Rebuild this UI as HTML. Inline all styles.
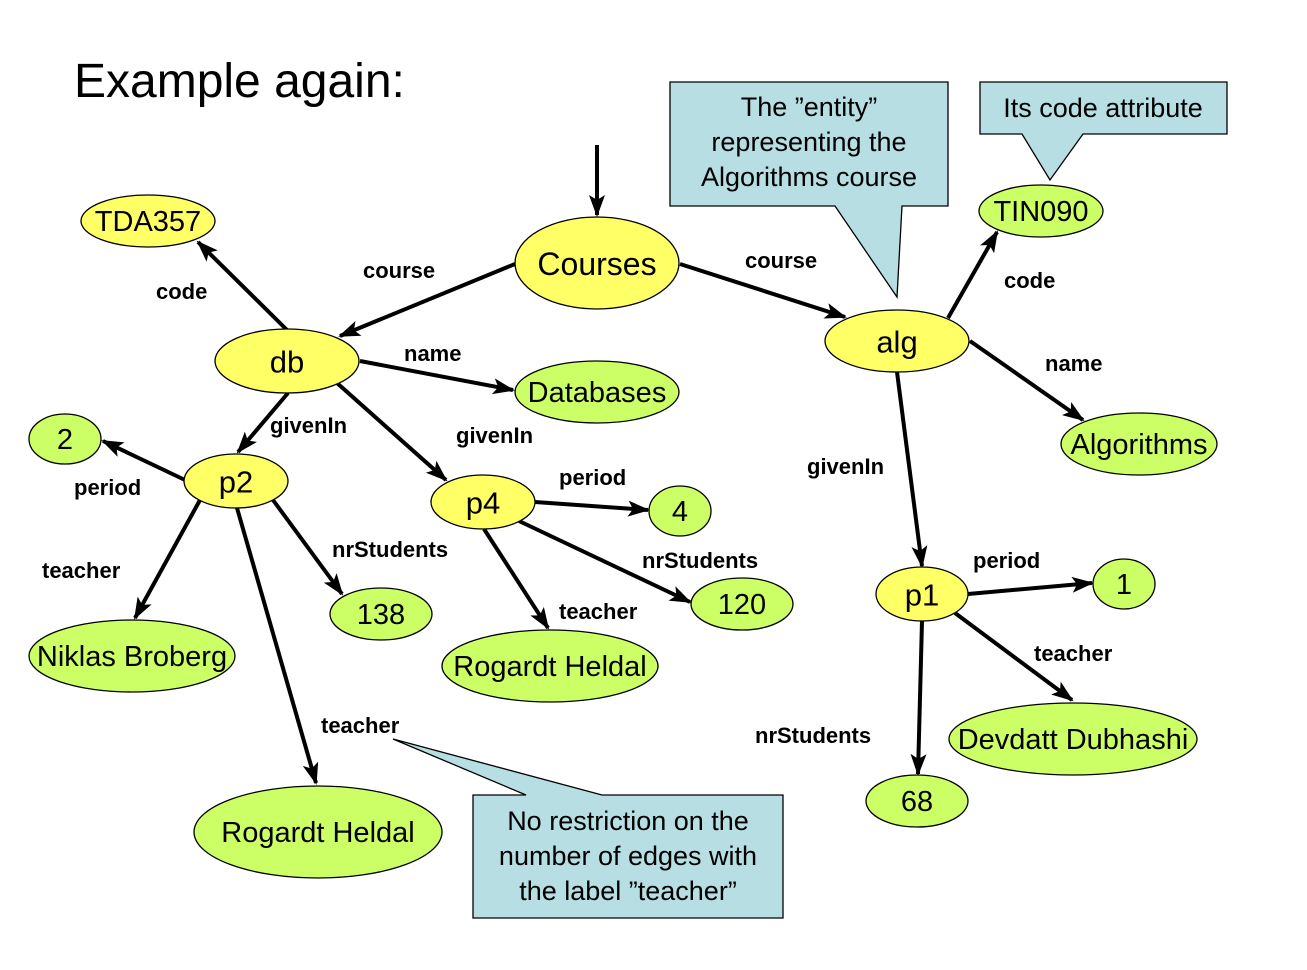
<!DOCTYPE html>
<html><head><meta charset="utf-8"><style>
body{margin:0;background:#fff}
svg{display:block}
text{font-family:"Liberation Sans",Arial,sans-serif;fill:#000}
.n{font-size:29px;text-anchor:middle;dominant-baseline:central}
.l{font-size:22px;font-weight:bold}
.c{font-size:27px;text-anchor:middle}
</style></head><body>
<svg width="1307" height="970" viewBox="0 0 1307 970" xmlns="http://www.w3.org/2000/svg">
<defs><marker id="a" viewBox="0 0 10 10" refX="9" refY="5" markerWidth="6" markerHeight="6" orient="auto" markerUnits="userSpaceOnUse" style="overflow:visible"><path d="M-14,-9 L6,5 L-14,19 L-9,5 Z" transform="scale(1)"/></marker>
<marker id="b" markerWidth="22" markerHeight="16" refX="20" refY="8" orient="auto" markerUnits="userSpaceOnUse"><path d="M0,0 L22,8 L0,16 L5,8 Z" fill="#000"/></marker></defs>
<text x="74" y="97" style="font-size:48px">Example again:</text>
<g stroke="#000" stroke-width="4" fill="none" marker-end="url(#b)">
<line x1="597" y1="145" x2="597" y2="215"/>
<line x1="515" y1="264" x2="340" y2="336"/>
<line x1="287" y1="330" x2="198" y2="242"/>
<line x1="360" y1="361" x2="513" y2="390"/>
<line x1="680" y1="264" x2="845" y2="317"/>
<line x1="948" y1="318" x2="997" y2="232"/>
<line x1="970" y1="341" x2="1083" y2="420"/>
<line x1="897" y1="372" x2="922" y2="566"/>
<line x1="288" y1="393" x2="238" y2="452"/>
<line x1="337" y1="383" x2="446" y2="480"/>
<line x1="185" y1="480" x2="103" y2="441"/>
<line x1="200" y1="500" x2="135" y2="618"/>
<line x1="273" y1="500" x2="342" y2="594"/>
<line x1="237" y1="508" x2="316" y2="783"/>
<line x1="535" y1="502" x2="648" y2="510"/>
<line x1="519" y1="521" x2="690" y2="602"/>
<line x1="484" y1="529" x2="548" y2="628"/>
<line x1="968" y1="594" x2="1092" y2="583"/>
<line x1="955" y1="613" x2="1072" y2="700"/>
<line x1="922" y1="621" x2="918" y2="774"/>
</g>
<g stroke="#000" stroke-width="1.3">
<polygon points="670,82 948,82 948,206 902,206 897,297 835,206 670,206" fill="#b7dee2"/>
<polygon points="980,82 1227,82 1227,134 1083,134 1050,180 1022,134 980,134" fill="#b7dee2"/>
<polygon points="473,795 526,795 393,739 602,795 783,795 783,918 473,918" fill="#b7dee2"/>
<g fill="#ffff66">
<ellipse cx="597" cy="263" rx="82" ry="46"/>
<ellipse cx="148" cy="221" rx="67" ry="26"/>
<ellipse cx="287" cy="361" rx="72" ry="32"/>
<ellipse cx="897" cy="341" rx="72" ry="31"/>
<ellipse cx="236" cy="481" rx="52" ry="27"/>
<ellipse cx="483" cy="502" rx="52" ry="27"/>
<ellipse cx="922" cy="594" rx="46" ry="27"/>
</g>
<g fill="#ccff66">
<ellipse cx="597" cy="392" rx="82" ry="31"/>
<ellipse cx="1041" cy="211" rx="62" ry="26"/>
<ellipse cx="1139" cy="444" rx="78" ry="31"/>
<ellipse cx="65" cy="439" rx="36" ry="25"/>
<ellipse cx="680" cy="511" rx="31" ry="25"/>
<ellipse cx="381" cy="614" rx="51" ry="26"/>
<ellipse cx="742" cy="604" rx="51" ry="26"/>
<ellipse cx="132" cy="656" rx="103" ry="36"/>
<ellipse cx="550" cy="666" rx="108" ry="36"/>
<ellipse cx="318" cy="832" rx="124" ry="46"/>
<ellipse cx="1124" cy="584" rx="31" ry="25"/>
<ellipse cx="1073" cy="739" rx="124" ry="36"/>
<ellipse cx="917" cy="801" rx="51" ry="26"/>
</g></g>
<text class="n" x="597" y="264" style="font-size:32px">Courses</text>
<text class="n" x="148" y="222">TDA357</text>
<text class="n" x="287" y="362" style="font-size:31px">db</text>
<text class="n" x="897" y="342" style="font-size:31px">alg</text>
<text class="n" x="236" y="482" style="font-size:31px">p2</text>
<text class="n" x="483" y="503" style="font-size:31px">p4</text>
<text class="n" x="922" y="595" style="font-size:31px">p1</text>
<text class="n" x="597" y="393">Databases</text>
<text class="n" x="1041" y="212">TIN090</text>
<text class="n" x="1139" y="445">Algorithms</text>
<text class="n" x="65" y="440">2</text>
<text class="n" x="680" y="512">4</text>
<text class="n" x="381" y="615">138</text>
<text class="n" x="742" y="605">120</text>
<text class="n" x="132" y="657">Niklas Broberg</text>
<text class="n" x="550" y="667">Rogardt Heldal</text>
<text class="n" x="318" y="833">Rogardt Heldal</text>
<text class="n" x="1124" y="585">1</text>
<text class="n" x="1073" y="740">Devdatt Dubhashi</text>
<text class="n" x="917" y="802">68</text>
<text class="l" x="363" y="278">course</text>
<text class="l" x="745" y="268">course</text>
<text class="l" x="156" y="299">code</text>
<text class="l" x="1004" y="288">code</text>
<text class="l" x="404" y="361">name</text>
<text class="l" x="1045" y="371">name</text>
<text class="l" x="270" y="433">givenIn</text>
<text class="l" x="456" y="443">givenIn</text>
<text class="l" x="807" y="474">givenIn</text>
<text class="l" x="74" y="495">period</text>
<text class="l" x="559" y="485">period</text>
<text class="l" x="973" y="568">period</text>
<text class="l" x="42" y="578">teacher</text>
<text class="l" x="559" y="619">teacher</text>
<text class="l" x="1034" y="661">teacher</text>
<text class="l" x="321" y="733">teacher</text>
<text class="l" x="332" y="557">nrStudents</text>
<text class="l" x="642" y="568">nrStudents</text>
<text class="l" x="755" y="743">nrStudents</text>
<text class="c" x="809" y="116">The ”entity”</text>
<text class="c" x="809" y="151">representing the</text>
<text class="c" x="809" y="186">Algorithms course</text>
<text class="c" x="1103" y="117">Its code attribute</text>
<text class="c" x="628" y="830">No restriction on the</text>
<text class="c" x="628" y="865">number of edges with</text>
<text class="c" x="628" y="900">the label ”teacher”</text>
</svg>
</body></html>
